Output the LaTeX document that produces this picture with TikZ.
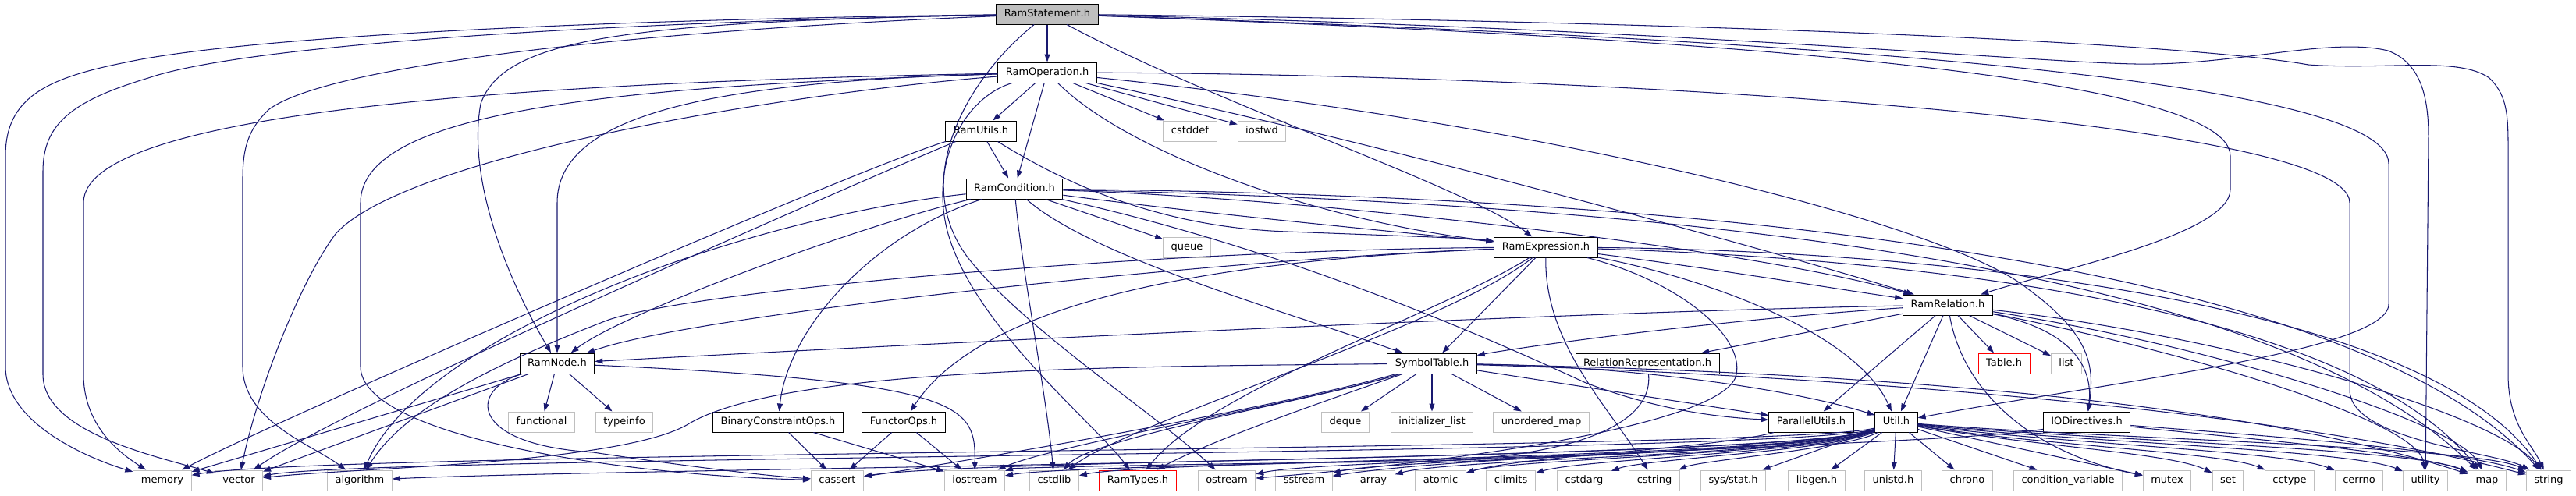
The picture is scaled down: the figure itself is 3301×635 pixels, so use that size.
\documentclass[tikz,border=0pt]{standalone}
\usepackage{fontspec}
\setmainfont{DejaVu Sans}
\usetikzlibrary{arrows.meta}

\definecolor{edgeblue}{HTML}{191970}
\definecolor{sysgray}{HTML}{BFBFBF}
\definecolor{rootgray}{HTML}{BFBFBF}

\begin{document}
\begin{tikzpicture}[
  x=1pt, y=-1pt,
  file/.style={rectangle, draw=black, fill=white, line width=1pt, inner xsep=10pt, inner ysep=0pt,
    minimum height=26pt, text height=9.5pt, text depth=2.5pt, font=\fontsize{13}{15}\selectfont},
  root/.style={file, fill=rootgray},
  sys/.style={file, draw=sysgray},
  ext/.style={file, draw=red},
  dep/.style={draw=edgeblue, line width=1.05pt, -{Triangle[length=10pt,width=7pt]}}
]
\useasboundingbox (0,0) rectangle (3301,635);

% Headers of the project
\node[root] (stmt) at (1342,18) {RamStatement.h};
\node[file] (op) at (1342,93) {RamOperation.h};
\node[file] (utils) at (1257,168) {RamUtils.h};
\node[file] (cond) at (1300,242) {RamCondition.h};
\node[file] (expr) at (1981,317) {RamExpression.h};
\node[file] (rel) at (2496,391) {RamRelation.h};
\node[file] (node) at (714,466) {RamNode.h};
\node[file] (symtab) at (1835,466) {SymbolTable.h};
\node[file] (relrep) at (2111,466) {RelationRepresentation.h};
\node[ext] (table) at (2568,466) {Table.h};
\node[file] (binops) at (997,541) {BinaryConstraintOps.h};
\node[file] (functor) at (1158,541) {FunctorOps.h};
\node[file] (parutil) at (2321,541) {ParallelUtils.h};
\node[file] (util) at (2430,541) {Util.h};
\node[file] (iodir) at (2674,541) {IODirectives.h};
\node[ext] (ramtypes) at (1458,616) {RamTypes.h};

% System headers
\node[sys] (cstddef) at (1525,168) {cstddef};
\node[sys] (iosfwd) at (1617,168) {iosfwd};
\node[sys] (queue) at (1521,317) {queue};
\node[sys] (list) at (2648,466) {list};
\node[sys] (functional) at (694,541) {functional};
\node[sys] (typeinfo) at (800,541) {typeinfo};
\node[sys] (deque) at (1724,541) {deque};
\node[sys] (initlist) at (1835,541) {initializer\_list};
\node[sys] (umap) at (1975,541) {unordered\_map};

\node[sys] (memory) at (208,616) {memory};
\node[sys] (vector) at (306,616) {vector};
\node[sys] (algorithm) at (461,616) {algorithm};
\node[sys] (cassert) at (1073,616) {cassert};
\node[sys] (iostream) at (1249,616) {iostream};
\node[sys] (cstdlib) at (1351,616) {cstdlib};
\node[sys] (ostream) at (1572,616) {ostream};
\node[sys] (sstream) at (1671,616) {sstream};
\node[sys] (array) at (1760,616) {array};
\node[sys] (atomic) at (1846,616) {atomic};
\node[sys] (climits) at (1936,616) {climits};
\node[sys] (cstdarg) at (2030,616) {cstdarg};
\node[sys] (cstring) at (2120,616) {cstring};
\node[sys] (sysstat) at (2221,616) {sys/stat.h};
\node[sys] (libgen) at (2328,616) {libgen.h};
\node[sys] (unistd) at (2426,616) {unistd.h};
\node[sys] (chrono) at (2521,616) {chrono};
\node[sys] (condvar) at (2650,616) {condition\_variable};
\node[sys] (mutex) at (2777,616) {mutex};
\node[sys] (set) at (2855,616) {set};
\node[sys] (cctype) at (2934,616) {cctype};
\node[sys] (cerrno) at (3023,616) {cerrno};
\node[sys] (utility) at (3108,616) {utility};
\node[sys] (map) at (3187,616) {map};
\node[sys] (string) at (3266,616) {string};

% RamStatement.h
\draw[dep] (stmt) -- (op);
\draw[dep] (stmt) .. controls (700,26) and (300,50) .. (161,80) .. controls (60,100) and (7,125) .. (7,200) -- (7,470) .. controls (7,545) and (120,590) .. (memory);
\draw[dep] (stmt) .. controls (700,30) and (300,62) .. (190,100) .. controls (90,130) and (55,160) .. (55,220) -- (55,480) .. controls (55,555) and (200,585) .. (vector);
\draw[dep] (stmt) .. controls (800,40) and (420,85) .. (345,140) .. controls (318,165) and (311,190) .. (311,230) -- (311,470) .. controls (311,540) and (400,570) .. (algorithm);
\draw[dep] (stmt) .. controls (800,28) and (645,50) .. (616,133) .. controls (600,220) and (640,340) .. (node);
\draw[dep] (stmt) .. controls (1550,130) and (1880,240) .. (expr);
\draw[dep] (stmt) .. controls (2100,45) and (2858,90) .. (2858,200) -- (2858,243) .. controls (2858,300) and (2640,345) .. (rel);
\draw[dep] (stmt) .. controls (2300,50) and (3061,100) .. (3061,210) -- (3061,390) .. controls (3061,450) and (2700,490) .. (util);
\draw[dep] (stmt) .. controls (2200,38) and (2650,85) .. (2760,82) .. controls (2880,80) and (2990,48) .. (3060,65) .. controls (3100,80) and (3112,120) .. (3112,175) -- (utility);
\draw[dep] (stmt) .. controls (2200,28) and (2800,55) .. (2958,83) .. controls (3060,90) and (3150,72) .. (3190,100) .. controls (3210,120) and (3214,140) .. (3214,185) -- (3214,480) .. controls (3214,545) and (3245,570) .. (string);
\draw[dep] (stmt) .. controls (1240,100) and (1165,230) .. (1240,330) .. controls (1310,420) and (1480,530) .. (ostream);

% RamOperation.h
\draw[dep] (op) -- (utils);
\draw[dep] (op) -- (cond);
\draw[dep] (op) -- (cstddef);
\draw[dep] (op) -- (iosfwd);
\draw[dep] (op) .. controls (700,105) and (107,140) .. (107,260) -- (107,480) .. controls (107,550) and (160,585) .. (memory);
\draw[dep] (op) .. controls (800,110) and (462,140) .. (462,260) -- (462,470) .. controls (462,560) and (800,610) .. (cassert);
\draw[dep] (op) .. controls (900,105) and (714,150) .. (714,260) -- (node);
\draw[dep] (op) .. controls (1000,120) and (520,200) .. (430,300) .. controls (385,360) and (330,500) .. (vector);
\draw[dep] (op) .. controls (1235,125) and (1190,210) .. (1215,300) .. controls (1250,420) and (1400,540) .. (ramtypes);
\draw[dep] (op) .. controls (1450,200) and (1700,285) .. (expr);
\draw[dep] (op) .. controls (1800,190) and (2300,330) .. (rel);
\draw[dep] (op) .. controls (2000,160) and (2500,290) .. (2598,370) .. controls (2680,430) and (2684,470) .. (iodir);
\draw[dep] (op) .. controls (2000,95) and (3011,150) .. (3011,260) -- (3011,500) .. controls (3011,565) and (3200,580) .. (string);

% RamUtils.h
\draw[dep] (utils) -- (cond);
\draw[dep] (utils) .. controls (1380,245) and (1500,292) .. (1650,297) .. controls (1780,302) and (1880,305) .. (expr);
\draw[dep] (utils) .. controls (1100,215) and (350,540) .. (memory);
\draw[dep] (utils) .. controls (1120,225) and (440,520) .. (vector);

% RamCondition.h
\draw[dep] (cond) .. controls (1550,275) and (1800,298) .. (expr);
\draw[dep] (cond) .. controls (1700,255) and (2250,320) .. (rel);
\draw[dep] (cond) -- (queue);
\draw[dep] (cond) .. controls (1400,330) and (1650,400) .. (symtab);
\draw[dep] (cond) .. controls (1310,350) and (1340,500) .. (cstdlib);
\draw[dep] (cond) .. controls (1120,300) and (1010,420) .. (binops);
\draw[dep] (cond) .. controls (1100,290) and (800,400) .. (node);
\draw[dep] (cond) .. controls (950,280) and (540,430) .. (algorithm);
\draw[dep] (cond) .. controls (1650,320) and (1900,430) .. (2030,490) .. controls (2120,525) and (2200,535) .. (parutil);
\draw[dep] (cond) .. controls (2100,260) and (2900,330) .. (map);
\draw[dep] (cond) .. controls (2100,250) and (3000,320) .. (string);

% RamExpression.h
\draw[dep] (expr) -- (symtab);
\draw[dep] (expr) .. controls (1500,335) and (1250,400) .. (functor);
\draw[dep] (expr) .. controls (1600,330) and (900,400) .. (node);
\draw[dep] (expr) .. controls (1500,320) and (900,370) .. (780,410) .. controls (650,460) and (520,520) .. (algorithm);
\draw[dep] (expr) .. controls (1850,400) and (1550,500) .. (ramtypes);
\draw[dep] (expr) .. controls (1850,420) and (1450,540) .. (cstdlib);
\draw[dep] (expr) .. controls (1979,440) and (2060,520) .. (cstring);
\draw[dep] (expr) .. controls (2200,345) and (2350,370) .. (rel);
\draw[dep] (expr) .. controls (2200,360) and (2380,430) .. (util);
\draw[dep] (expr) .. controls (2150,360) and (2235,430) .. (2225,480) .. controls (2215,540) and (1900,590) .. (ostream);
\draw[dep] (expr) .. controls (2400,330) and (3000,380) .. (map);
\draw[dep] (expr) .. controls (2400,320) and (3100,370) .. (string);

% RamRelation.h
\draw[dep] (rel) -- (relrep);
\draw[dep] (rel) -- (parutil);
\draw[dep] (rel) -- (util);
\draw[dep] (rel) -- (table);
\draw[dep] (rel) -- (list);
\draw[dep] (rel) .. controls (2640,420) and (2684,460) .. (iodir);
\draw[dep] (rel) .. controls (2000,400) and (1200,440) .. (node);
\draw[dep] (rel) .. controls (2200,410) and (1950,445) .. (symtab);
\draw[dep] (rel) .. controls (2515,500) and (2600,580) .. (mutex);
\draw[dep] (rel) .. controls (2800,450) and (3100,540) .. (utility);
\draw[dep] (rel) .. controls (2820,440) and (3150,540) .. (map);
\draw[dep] (rel) .. controls (2850,430) and (3200,530) .. (string);

% SymbolTable.h
\draw[dep] (symtab) -- (deque);
\draw[dep] (symtab) -- (initlist);
\draw[dep] (symtab) -- (umap);
\draw[dep] (symtab) -- (parutil);
\draw[dep] (symtab) .. controls (2100,470) and (2300,500) .. (util);
\draw[dep] (symtab) .. controls (1650,520) and (1250,590) .. (cassert);
\draw[dep] (symtab) .. controls (1700,510) and (1350,570) .. (iostream);
\draw[dep] (symtab) .. controls (1700,510) and (1400,560) .. (cstdlib);
\draw[dep] (symtab) .. controls (1740,500) and (1560,560) .. (ramtypes);
\draw[dep] (symtab) .. controls (1450,470) and (1000,470) .. (880,545) .. controls (790,595) and (450,600) .. (vector);
\draw[dep] (symtab) .. controls (2300,475) and (2850,505) .. (map);
\draw[dep] (symtab) .. controls (2300,480) and (2900,520) .. (string);

% RelationRepresentation.h, ParallelUtils.h, IODirectives.h
\draw[dep] (relrep) .. controls (2120,550) and (2000,590) .. (1800,592) .. controls (1500,595) and (1300,600) .. (iostream);
\draw[dep] (parutil) .. controls (2200,575) and (1950,585) .. (atomic);
\draw[dep] (iodir) .. controls (2500,570) and (1900,580) .. (sstream);
\draw[dep] (iodir) .. controls (2850,560) and (3100,580) .. (map);
\draw[dep] (iodir) .. controls (2850,555) and (3150,575) .. (string);

% RamNode.h
\draw[dep] (node) -- (functional);
\draw[dep] (node) -- (typeinfo);
\draw[dep] (node) -- (memory);
\draw[dep] (node) -- (vector);
\draw[dep] (node) .. controls (600,500) and (600,570) .. (760,580) .. controls (880,598) and (980,610) .. (cassert);
\draw[dep] (node) .. controls (1240,490) and (1250,520) .. (iostream);

% BinaryConstraintOps.h, FunctorOps.h
\draw[dep] (binops) -- (cassert);
\draw[dep] (binops) -- (iostream);
\draw[dep] (functor) -- (cassert);
\draw[dep] (functor) -- (iostream);

% Util.h
\draw[dep] (util) .. controls (2300,578) and (420,578) .. (memory);
\draw[dep] (util) .. controls (2300,584) and (480,584) .. (vector);
\draw[dep] (util) .. controls (2300,590) and (800,600) .. (algorithm);
\draw[dep] (util) .. controls (2300,588) and (1250,588) .. (cassert);
\draw[dep] (util) .. controls (2300,592) and (1400,592) .. (iostream);
\draw[dep] (util) .. controls (2300,588) and (1480,590) .. (cstdlib);
\draw[dep] (util) .. controls (2300,586) and (1700,588) .. (ostream);
\draw[dep] (util) .. controls (2300,584) and (1780,588) .. (sstream);
\draw[dep] (util) .. controls (2320,584) and (1860,588) .. (array);
\draw[dep] (util) .. controls (2330,582) and (1940,588) .. (atomic);
\draw[dep] (util) .. controls (2340,580) and (2030,588) .. (climits);
\draw[dep] (util) .. controls (2350,578) and (2110,588) .. (cstdarg);
\draw[dep] (util) .. controls (2370,575) and (2180,590) .. (cstring);
\draw[dep] (util) -- (sysstat);
\draw[dep] (util) -- (libgen);
\draw[dep] (util) -- (unistd);
\draw[dep] (util) -- (chrono);
\draw[dep] (util) -- (condvar);
\draw[dep] (util) -- (mutex);
\draw[dep] (util) .. controls (2600,572) and (2780,580) .. (set);
\draw[dep] (util) .. controls (2600,570) and (2850,580) .. (cctype);
\draw[dep] (util) .. controls (2620,568) and (2930,578) .. (cerrno);
\draw[dep] (util) .. controls (2640,566) and (3010,576) .. (utility);
\draw[dep] (util) .. controls (2660,564) and (3090,574) .. (map);
\draw[dep] (util) .. controls (2680,562) and (3170,572) .. (string);
\end{tikzpicture}
\end{document}
